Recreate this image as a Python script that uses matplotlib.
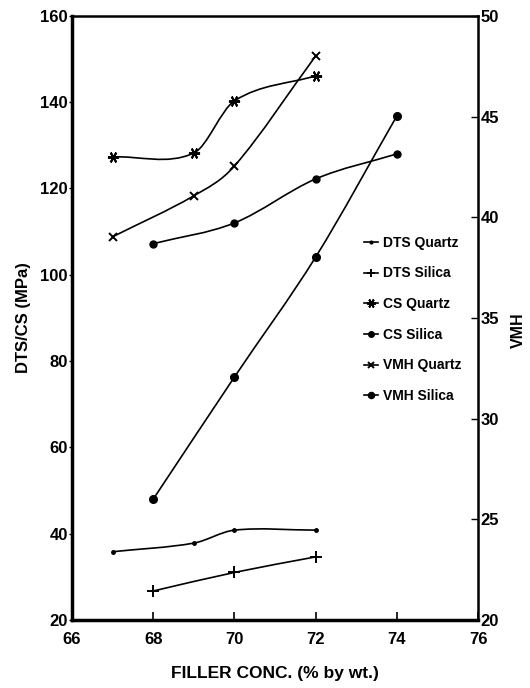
import matplotlib
matplotlib.use('Agg')
import matplotlib.pyplot as plt
from matplotlib.path import Path
from matplotlib.patches import PathPatch
from matplotlib.lines import Line2D

###########               Data                 ###########
#--------------------------------------------------------#
dts_quartz_x = [67, 69, 70, 72]
dts_quartz_y = [35.8, 37.8, 40.8, 40.8]
dts_silica_x = [68, 70, 72]
dts_silica_y = [26.7, 31.0, 34.6]
cs_quartz_x = [67, 69, 70, 72]
cs_quartz_y = [127.3, 128.2, 140.3, 146.1]
cs_silica_x = [68, 70, 72, 74]
cs_silica_y = [107.2, 112.0, 122.2, 128.0]
vmh_quartz_x = [67, 69, 70, 72]
vmh_quartz_y = [108.8, 118.3, 125.2, 150.7]
vmh_silica_x = [68, 70, 72, 74]
vmh_silica_y = [48.0, 76.3, 104.1, 136.8]

labels = ['DTS Quartz', 'DTS Silica', 'CS Quartz', 'CS Silica',
          'VMH Quartz', 'VMH Silica']
left_ticks = [20, 40, 60, 80, 100, 120, 140, 160]
right_ticks = [20, 25, 30, 35, 40, 45, 50]
x_ticks = [66, 68, 70, 72, 74, 76]


def smooth_path(xs, ys):
    # cubic hermite segments written as bezier control points
    n = len(xs)
    m = []
    for i in range(n):
        if i == 0:
            m.append((ys[1] - ys[0]) / (xs[1] - xs[0]))
        elif i == n - 1:
            m.append((ys[-1] - ys[-2]) / (xs[-1] - xs[-2]))
        else:
            m.append((ys[i + 1] - ys[i - 1]) / (xs[i + 1] - xs[i - 1]))
    verts = [(xs[0], ys[0])]
    codes = [Path.MOVETO]
    for i in range(n - 1):
        h = xs[i + 1] - xs[i]
        verts += [(xs[i] + h / 3, ys[i] + m[i] * h / 3),
                  (xs[i + 1] - h / 3, ys[i + 1] - m[i + 1] * h / 3),
                  (xs[i + 1], ys[i + 1])]
        codes += [Path.CURVE4] * 3
    return Path(verts, codes)


###########              Figure                ###########
#--------------------------------------------------------#
plt.rcParams['font.family'] = ['Liberation Sans', 'DejaVu Sans']
plt.rcParams['font.weight'] = 'bold'

fig = plt.figure(figsize=(5.3, 6.88), dpi=100)
ax = fig.add_axes([0.136, 0.099, 0.766, 0.878])

series = [
    (dts_quartz_x, dts_quartz_y, dict(marker='o', markersize=2.5)),
    (dts_silica_x, dts_silica_y, dict(marker='+', markersize=8, markeredgewidth=1.4)),
    (cs_quartz_x, cs_quartz_y, dict(marker=(6, 2, 90), markersize=8, markeredgewidth=1.4)),
    (cs_silica_x, cs_silica_y, dict(marker='o', markersize=5)),
    (vmh_quartz_x, vmh_quartz_y, dict(marker='x', markersize=6, markeredgewidth=1.4)),
    (vmh_silica_x, vmh_silica_y, dict(marker='o', markersize=5.5)),
]

handles = []
for (xs, ys, mk), lab in zip(series, labels):
    ax.add_patch(PathPatch(smooth_path(xs, ys), facecolor='none',
                           edgecolor='black', linewidth=1.2))
    ax.plot(xs, ys, linestyle='none', color='black', **mk)
    handles.append(Line2D([], [], color='black', linewidth=1.2, **mk))

ax.set_xlim(66, 76)
ax.set_ylim(20, 160)
ax.set_xticks(x_ticks)
ax.set_yticks(left_ticks)
ax.tick_params(axis='x', direction='in', length=6, width=1.2, labelsize=12, pad=9)
ax.tick_params(axis='y', direction='out', length=2, width=1, labelsize=12, pad=1)
for s in ['left', 'bottom']:
    ax.spines[s].set_linewidth(2.5)
for s in ['top', 'right']:
    ax.spines[s].set_linewidth(1.8)

ax2 = ax.twinx()
ax2.set_ylim(20, 50)
ax2.set_yticks(right_ticks)
ax2.tick_params(axis='y', direction='in', length=5, width=1, labelsize=12, pad=2)
for s in ax2.spines.values():
    s.set_visible(False)

ax.set_ylabel('DTS/CS (MPa)', fontsize=12, fontweight='bold')
ax.yaxis.set_label_coords(-0.1, 0.5)
ax2.set_ylabel('VMH', fontsize=11.5, fontweight='bold')
ax2.yaxis.set_label_coords(1.08, 0.48)
ax.set_xlabel('FILLER CONC. (% by wt.)', fontsize=12.5, fontweight='bold')
ax.xaxis.set_label_coords(0.5, -0.076)

ax.legend(handles, labels, loc='upper left', bbox_to_anchor=(0.705, 0.645),
          frameon=False, fontsize=10, handlelength=1.0, handletextpad=0.35,
          labelspacing=1.2, markerscale=0.8, borderaxespad=0)

fig.savefig('out.png', dpi=100)
